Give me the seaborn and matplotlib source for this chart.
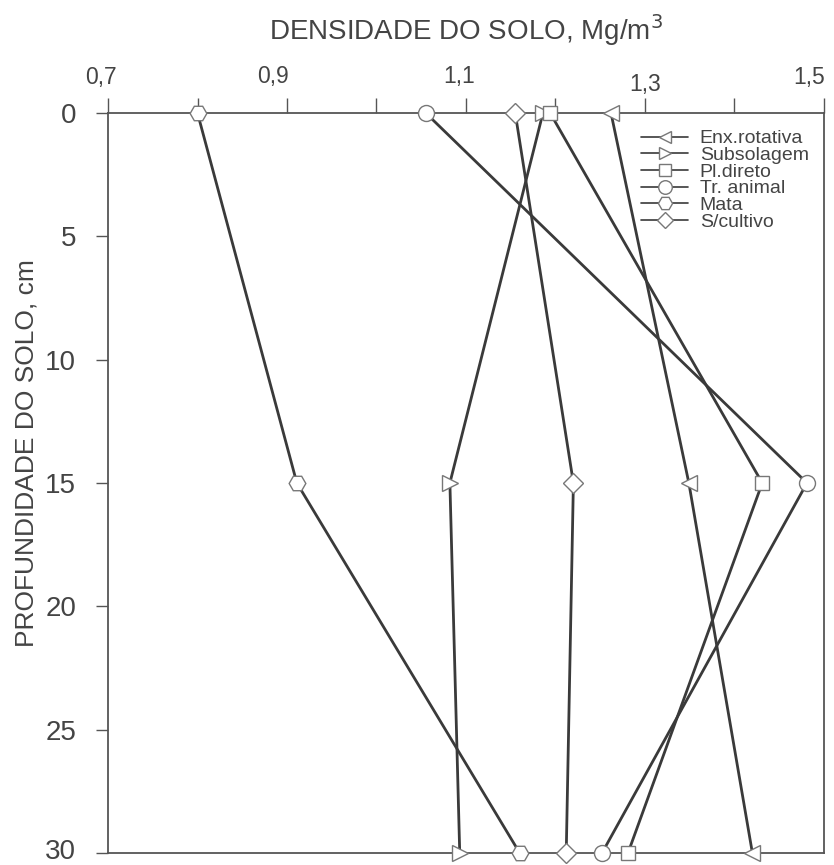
import matplotlib
matplotlib.use("Agg")
import matplotlib.pyplot as plt
import matplotlib.transforms as mtransforms
import seaborn as sns
import pandas as pd
from matplotlib.ticker import MultipleLocator, FixedLocator

sns.set_theme(style="ticks")
plt.rcParams["font.family"] = ["Liberation Sans", "DejaVu Sans"]

# Soil bulk density (Mg/m3) at each sampled depth (cm) for each management system
depths = [0, 15, 30]
series_names = ["Enx.rotativa", "Subsolagem", "Pl.direto", "Tr. animal", "Mata", "S/cultivo"]
enx_rotativa = [1.262, 1.349, 1.420]
subsolagem = [1.186, 1.082, 1.093]
pl_direto = [1.194, 1.431, 1.281]
tr_animal = [1.055, 1.481, 1.252]
mata = [0.800, 0.911, 1.160]
s_cultivo = [1.155, 1.220, 1.212]

x_ticks = [0.7, 0.9, 1.1, 1.3, 1.5]
x_tick_labels = ["0,7", "0,9", "1,1", "1,3", "1,5"]
y_ticks = [0, 5, 10, 15, 20, 25, 30]

values = [enx_rotativa, subsolagem, pl_direto, tr_animal, mata, s_cultivo]
markers = ["<", ">", "s", "o", "H", "D"]
marker_sizes = [11, 11, 10, 11.5, 12, 10]

rows = []
for name, vals in zip(series_names, values):
    for d, v in zip(depths, vals):
        rows.append({"sistema": name, "profundidade": d, "densidade": v})
df = pd.DataFrame(rows)

fig = plt.figure(figsize=(8.34, 8.65), dpi=100)
ax = fig.add_axes([0.1295, 0.0139, 0.9880 - 0.1295, 0.8694 - 0.0139])

line_color = "#3a3a3a"
edge_color = "#777777"
text_color = "#444444"
for name, mk, ms in zip(series_names, markers, marker_sizes):
    sub = df[df["sistema"] == name]
    sns.lineplot(data=sub, x="densidade", y="profundidade", orient="y", sort=False,
                 ax=ax, color=line_color, linewidth=2.0, marker=mk, markersize=ms,
                 markerfacecolor="white", markeredgecolor=edge_color,
                 markeredgewidth=1.0, label=name, clip_on=False, zorder=3)

ax.set_xlim(0.7, 1.5)
ax.set_ylim(30, 0)
ax.xaxis.tick_top()
ax.xaxis.set_label_position("top")
ax.xaxis.set_major_locator(FixedLocator(x_ticks))
ax.set_xticklabels(x_tick_labels)
ax.xaxis.set_minor_locator(MultipleLocator(0.1))
ax.set_yticks(y_ticks)
ax.set_yticklabels([str(t) for t in y_ticks])

ax.tick_params(axis="x", which="both", direction="out", length=11, width=1.0,
               color="#555555", labelsize=16.5, labelcolor=text_color, pad=6)
ax.tick_params(axis="y", direction="out", length=9, width=1.0,
               color="#555555", labelsize=20, labelcolor=text_color, pad=14)

# nudge the top tick labels (offsets in points) so the end labels stay inside the figure
label_offsets = [(-5, 0), (-10, 1), (-5, 1), (0, -5), (-11, 0)]
for lab, (dx, dy) in zip(ax.get_xticklabels(), label_offsets):
    lab.set_transform(lab.get_transform() +
                      mtransforms.ScaledTranslation(dx / 72, dy / 72, fig.dpi_scale_trans))
# keep the deepest label clear of the bottom edge
last_y = ax.get_yticklabels()[-1]
last_y.set_transform(last_y.get_transform() +
                     mtransforms.ScaledTranslation(0, 3 / 72, fig.dpi_scale_trans))

for sp in ax.spines.values():
    sp.set_visible(True)
    sp.set_color("#555555")
    sp.set_linewidth(1.3)

ax.set_xlabel("DENSIDADE DO SOLO, Mg/m$^3$", fontsize=20, color=text_color, labelpad=18)
ax.set_ylabel("PROFUNDIDADE DO SOLO, cm", fontsize=19, color=text_color)
ax.yaxis.set_label_coords(-0.097, 0.54)

leg = ax.legend(loc="upper right", bbox_to_anchor=(0.995, 0.993), frameon=False,
                fontsize=14, labelspacing=-0.05, handlelength=2.4, handletextpad=0.6,
                borderaxespad=0.2, markerscale=0.85)
for t in leg.get_texts():
    t.set_color(text_color)
for h in leg.legend_handles:
    h.set_linewidth(1.2)

fig.savefig("out.png", dpi=100)
